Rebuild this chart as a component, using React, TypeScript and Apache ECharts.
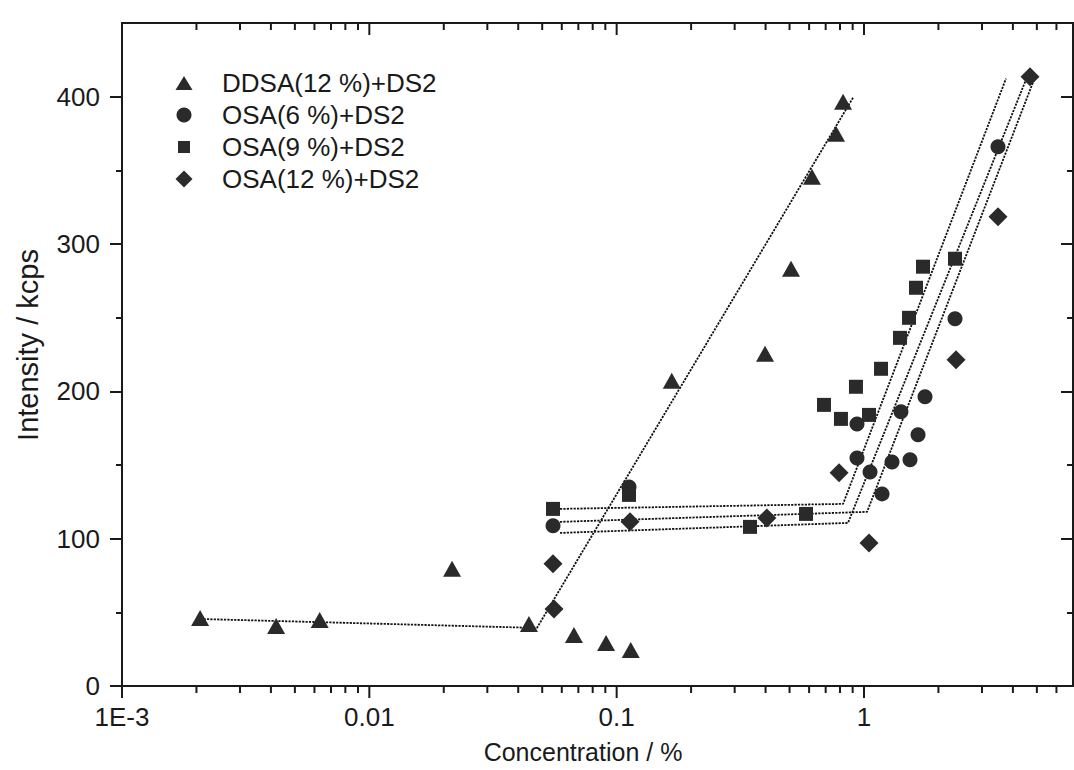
import React, { useEffect, useRef } from 'react';
import * as echarts from 'echarts';

const FONT = '"Liberation Sans", Arial, Helvetica, sans-serif';
const INK = '#1a1a1a';
const MARK = '#2a2a2a';

const seriesNames = ['DDSA(12 %)+DS2', 'OSA(6 %)+DS2', 'OSA(9 %)+DS2', 'OSA(12 %)+DS2'];

// DDSA(12 %)+DS2 (triangles)
const ddsa12Conc = [0.00207, 0.0042, 0.0063, 0.0216, 0.0442, 0.0672, 0.0906, 0.114, 0.167, 0.398, 0.507, 0.616, 0.771, 0.823];
const ddsa12Int = [46.2, 40.7, 44.8, 79.5, 42.1, 34.6, 29.2, 24.4, 207.1, 225.5, 283.2, 345.7, 374.9, 396.6];

// OSA(6 %)+DS2 (circles)
const osa6Conc = [0.0553, 0.1122, 0.937, 0.937, 1.058, 1.183, 1.298, 1.411, 1.535, 1.654, 1.765, 2.334, 3.482];
const osa6Int = [108.7, 135.1, 177.9, 154.8, 145.3, 130.4, 152.1, 186.1, 153.5, 170.5, 196.3, 249.2, 366.0];

// OSA(9 %)+DS2 (squares)
const osa9Conc = [0.0553, 0.1122, 0.346, 0.583, 0.689, 0.807, 0.928, 1.048, 1.172, 1.398, 1.521, 1.623, 1.732, 2.334];
const osa9Int = [120.2, 129.7, 108.0, 116.8, 190.8, 181.3, 203.1, 184.0, 215.3, 236.3, 249.9, 270.3, 284.6, 290.0];

// OSA(12 %)+DS2 (diamonds)
const osa12Conc = [0.0553, 0.0558, 0.1132, 0.405, 0.793, 1.048, 2.356, 3.482, 4.692];
const osa12Int = [82.9, 52.3, 111.4, 114.1, 144.7, 97.1, 221.4, 318.5, 413.6];

// Two-segment fitted lines (start, break point, end)
const ddsa12FitConc = [0.00207, 0.0476, 0.903];
const ddsa12FitInt = [45.5, 39.4, 399.3];
const osa9FitConc = [0.059, 0.823, 3.75];
const osa9FitInt = [120.2, 123.6, 412.2];
const osa12FitConc = [0.059, 1.029, 4.96];
const osa12FitInt = [111.4, 118.2, 415.0];
const osa6FitConc = [0.059, 0.862, 4.69];
const osa6FitInt = [103.9, 110.7, 418.3];

// Axis ticks and labels
const xMin = 0.001;
const xMax = 7;
const xMajorTicks = [0.001, 0.01, 0.1, 1];
const xTickLabels = ['1E-3', '0.01', '0.1', '1'];
const yMin = 0;
const yMax = 450;
const yMajorTicks = [0, 100, 200, 300, 400];
const yMinorTicks = [50, 150, 250, 350];

const zip = (xs: number[], ys: number[]) => xs.map((x, i) => [x, ys[i]]);

const legendIcons = ['triangle', 'circle', 'rect', 'diamond'];
const legendSizes = [[17, 14], [15, 15], [12, 12], [17, 17]];
const legendRows = [83, 115, 147, 179];

export default function App() {
  const ref = useRef<HTMLDivElement>(null);

  useEffect(() => {
    if (!ref.current) return;
    const chart = echarts.init(ref.current, undefined, { renderer: 'svg' });

    const lineStyle = { color: INK, width: 2 };
    const hiddenY = (position: 'left' | 'right', inside: boolean, length: number, values: number[]) => ({
      type: 'value',
      min: yMin,
      max: yMax,
      position,
      axisLine: { show: false, onZero: false },
      axisTick: { show: true, inside, length, lineStyle, customValues: values },
      axisLabel: { show: false },
      splitLine: { show: false },
    });

    const fitSeries = (name: string, xs: number[], ys: number[]) => ({
      name,
      type: 'line',
      data: zip(xs, ys),
      symbol: 'none',
      silent: true,
      z: 1,
      lineStyle: { color: '#111', width: 1.8, type: [2.2, 1.2] },
    });

    const scatter = (name: string, xs: number[], ys: number[], symbol: string, size: number | number[]) => ({
      name,
      type: 'scatter',
      data: zip(xs, ys),
      symbol,
      symbolSize: size,
      z: 3,
      itemStyle: { color: MARK, opacity: 1 },
    });

    chart.setOption({
      animation: false,
      backgroundColor: '#ffffff',
      grid: {
        left: 122,
        right: 1,
        top: 23,
        bottom: 84,
        show: true,
        borderColor: INK,
        borderWidth: 2,
      },
      legend: seriesNames.map((name, i) => {
        const [w, h] = legendSizes[i];
        return {
          data: [{ name, icon: legendIcons[i] }],
          orient: 'vertical',
          left: 184 - w / 2,
          top: legendRows[i] - 13,
          padding: 0,
          itemWidth: w,
          itemHeight: h,
          selectedMode: false,
          textStyle: {
            fontFamily: FONT,
            fontSize: 26,
            color: INK,
            lineHeight: 26,
            padding: [0, 0, 0, 33 - w / 2],
          },
        };
      }),
      xAxis: [
        {
          type: 'log',
          logBase: 10,
          min: xMin,
          max: xMax,
          position: 'bottom',
          axisLine: { show: true, onZero: false, lineStyle },
          axisTick: { show: false },
          minorTick: { show: false },
          splitLine: { show: false },
          axisLabel: {
            fontFamily: FONT,
            fontSize: 26,
            color: INK,
            margin: 18,
            showMaxLabel: false,
            formatter: (v: number) => {
              const idx = xMajorTicks.findIndex((t) => Math.abs(Math.log10(t) - Math.log10(v)) < 1e-6);
              return idx >= 0 ? xTickLabels[idx] : '';
            },
          },
          name: 'Concentration / %',
          nameLocation: 'middle',
          nameGap: 53,
          nameTextStyle: { fontFamily: FONT, fontSize: 25, color: INK, padding: [0, 29, 0, 0] },
        },
      ],
      yAxis: [
        {
          type: 'value',
          min: yMin,
          max: yMax,
          position: 'left',
          axisLine: { show: true, onZero: false, lineStyle },
          axisTick: { show: true, inside: false, length: 12, lineStyle, customValues: yMajorTicks },
          axisLabel: { customValues: yMajorTicks, fontFamily: FONT, fontSize: 26, color: INK, margin: 22 },
          splitLine: { show: false },
          name: 'Intensity / kcps',
          nameLocation: 'middle',
          nameGap: 80,
          nameTextStyle: { fontFamily: FONT, fontSize: 29, color: INK, padding: [0, 0, 0, 19] },
        },
        hiddenY('left', false, 6, yMinorTicks),
        hiddenY('right', true, 12, yMajorTicks),
        hiddenY('right', true, 6, yMinorTicks),
      ],
      series: [
        fitSeries('DDSA(12 %)+DS2 fit', ddsa12FitConc, ddsa12FitInt),
        fitSeries('OSA(6 %)+DS2 fit', osa6FitConc, osa6FitInt),
        fitSeries('OSA(9 %)+DS2 fit', osa9FitConc, osa9FitInt),
        fitSeries('OSA(12 %)+DS2 fit', osa12FitConc, osa12FitInt),
        scatter(seriesNames[0], ddsa12Conc, ddsa12Int, 'triangle', [18, 16]),
        scatter(seriesNames[1], osa6Conc, osa6Int, 'circle', 15),
        scatter(seriesNames[2], osa9Conc, osa9Int, 'rect', 14),
        scatter(seriesNames[3], osa12Conc, osa12Int, 'diamond', [19, 19]),
      ],
    });

    // Log-axis ticks (decades and 2..9 subdivisions) on the bottom and top frame edges
    const yBottom = chart.convertToPixel({ yAxisIndex: 0 }, yMin) as number;
    const yTop = chart.convertToPixel({ yAxisIndex: 0 }, yMax) as number;
    const minorValues: number[] = [];
    for (let k = -3; k <= 0; k++) {
      for (let m = 2; m <= 9; m++) {
        const v = m * Math.pow(10, k);
        if (v > xMin && v < xMax * 0.999) minorValues.push(v);
      }
    }
    const tickLine = (x: number, y1: number, y2: number) => ({
      type: 'line',
      silent: true,
      z: 10,
      shape: { x1: x, y1, x2: x, y2 },
      style: { stroke: INK, lineWidth: 2 },
    });
    const graphics: any[] = [];
    xMajorTicks.forEach((v) => {
      const x = chart.convertToPixel({ xAxisIndex: 0 }, v) as number;
      graphics.push(tickLine(x, yBottom, yBottom + 12));
      graphics.push(tickLine(x, yTop, yTop + 12));
    });
    minorValues.forEach((v) => {
      const x = chart.convertToPixel({ xAxisIndex: 0 }, v) as number;
      graphics.push(tickLine(x, yBottom, yBottom + 7));
      graphics.push(tickLine(x, yTop, yTop + 7));
    });
    chart.setOption({ graphic: graphics });

    return () => chart.dispose();
  }, []);

  return (
    <div
      ref={ref}
      style={{ position: 'absolute', left: 0, top: 0, width: 1074, height: 770, background: '#fff' }}
    />
  );
}
